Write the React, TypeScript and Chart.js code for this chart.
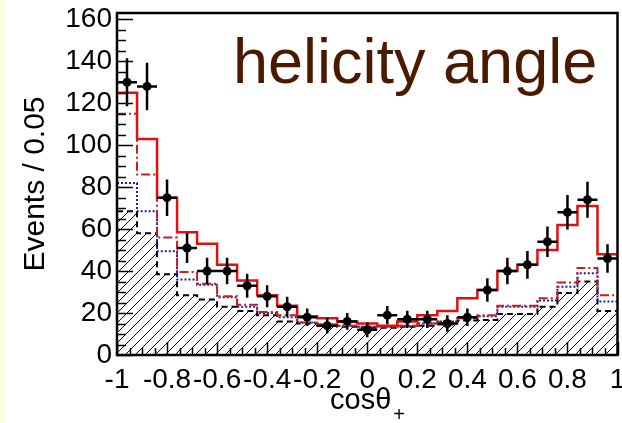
import React, { useEffect, useRef } from 'react';
import { Chart, registerables } from 'chart.js';

Chart.register(...registerables);

// ---- data ----
const binCenters = [-0.96, -0.88, -0.8, -0.72, -0.64, -0.56, -0.48, -0.4, -0.32, -0.24, -0.16, -0.08, 0, 0.08, 0.16, 0.24, 0.32, 0.4, 0.48, 0.56, 0.64, 0.72, 0.8, 0.88, 0.96];
const binHalfWidth = 0.04;
const dataCounts = [130, 128, 75, 51, 40, 40, 33, 28, 23, 18, 14, 16, 12, 19, 17, 17, 15, 18, 31, 40, 43, 54, 68, 74, 46];
const dataErrors = [11.4, 11.3, 8.7, 7.1, 6.3, 6.3, 5.7, 5.3, 4.8, 4.2, 3.7, 4.0, 3.5, 4.4, 4.1, 4.1, 3.9, 4.2, 5.6, 6.3, 6.6, 7.3, 8.2, 8.6, 6.8];
const totalFit = [125, 103, 75, 58.5, 53, 43, 35.5, 28.5, 23.5, 18.5, 17.5, 16, 15, 14, 16, 19, 21, 27, 31, 40, 43, 50, 62, 71, 48];
const componentDashDot = [115, 86, 56, 39.5, 34, 28, 24, 20.5, 19, 15.5, 14.5, 14, 13.5, 13.5, 14, 15, 16, 17.5, 19, 23.5, 23.5, 27, 34.5, 41.5, 28.5];
const componentDotted = [82, 68.5, 49.5, 36, 33.5, 27.5, 23, 20, 18, 15.5, 14.5, 14, 13.5, 13.5, 14, 15, 16, 17.5, 18.5, 23, 23, 26, 32.5, 39, 25.5];
const backgroundHatched = [68.5, 58, 38.5, 28.5, 26.5, 23, 21, 19, 16, 15, 14, 13.5, 13, 13, 13.5, 14, 14.5, 16.5, 16.7, 19.5, 19.5, 23, 29.5, 35, 21];

const xTickValues = [-1, -0.8, -0.6, -0.4, -0.2, 0, 0.2, 0.4, 0.6, 0.8, 1];
const xTickLabels = ['-1', '-0.8', '-0.6', '-0.4', '-0.2', '0', '0.2', '0.4', '0.6', '0.8', '1'];
const yTickValues = [0, 20, 40, 60, 80, 100, 120, 140, 160];
const yTickLabels = ['0', '20', '40', '60', '80', '100', '120', '140', '160'];

const xTitle = 'cosθ';
const xTitleSub = '+';
const yTitle = 'Events / 0.05';
const plotLabel = 'helicity angle';

const FONT = '"Liberation Sans", Arial, Helvetica, sans-serif';

function stepPoints(vals: number[]) {
  const pts = vals.map((v, i) => ({ x: binCenters[i] - binHalfWidth, y: v }));
  pts.push({ x: binCenters[binCenters.length - 1] + binHalfWidth, y: vals[vals.length - 1] });
  return pts;
}

function makeHatch(): CanvasPattern | string {
  const c = document.createElement('canvas');
  const s = 10;
  c.width = s;
  c.height = s;
  const g = c.getContext('2d');
  if (!g) return 'rgba(0,0,0,0.1)';
  g.strokeStyle = '#000';
  g.lineWidth = 1;
  g.beginPath();
  g.moveTo(-1, s + 1);
  g.lineTo(s + 1, -1);
  g.moveTo(-2, 2);
  g.lineTo(2, -2);
  g.moveTo(s - 2, s + 2);
  g.lineTo(s + 2, s - 2);
  g.stroke();
  const p = g.createPattern(c, 'repeat');
  return p || 'rgba(0,0,0,0.1)';
}

const decorPlugin = {
  id: 'decor',
  beforeDraw(chart: any) {
    const ctx = chart.ctx;
    ctx.save();
    ctx.fillStyle = '#ffffff';
    ctx.fillRect(0, 0, chart.width, chart.height);
    ctx.fillStyle = '#fffbe4';
    ctx.fillRect(0, 0, 5, chart.height);
    ctx.restore();
  },
  afterDatasetsDraw(chart: any) {
    const ctx = chart.ctx;
    const xs = chart.scales.x;
    const ys = chart.scales.y;
    const ca = chart.chartArea;
    ctx.save();
    // error bars
    ctx.strokeStyle = '#000';
    ctx.lineWidth = 2.5;
    ctx.beginPath();
    for (let i = 0; i < binCenters.length; i++) {
      const xc = xs.getPixelForValue(binCenters[i]);
      const yc = ys.getPixelForValue(dataCounts[i]);
      const yTop = ys.getPixelForValue(dataCounts[i] + dataErrors[i]);
      const yBot = ys.getPixelForValue(dataCounts[i] - dataErrors[i]);
      ctx.moveTo(xc, yTop);
      ctx.lineTo(xc, yBot);
      ctx.moveTo(xs.getPixelForValue(binCenters[i] - binHalfWidth), yc);
      ctx.lineTo(xs.getPixelForValue(binCenters[i] + binHalfWidth), yc);
    }
    ctx.stroke();

    // ticks inside frame
    ctx.lineWidth = 1.5;
    ctx.beginPath();
    for (let v = 0; v <= 163; v += 5) {
      const y = Math.round(ys.getPixelForValue(v)) + 0.5;
      const len = v % 20 === 0 ? 16 : 9;
      ctx.moveTo(ca.left, y);
      ctx.lineTo(ca.left + len, y);
    }
    for (let k = 0; k <= 40; k++) {
      const v = -1 + k * 0.05;
      const x = Math.round(xs.getPixelForValue(v)) + 0.5;
      const len = k % 4 === 0 ? 13 : 7;
      ctx.moveTo(x, ca.bottom);
      ctx.lineTo(x, ca.bottom - len);
    }
    ctx.stroke();

    // frame
    ctx.lineWidth = 2.5;
    ctx.strokeRect(ca.left, ca.top, ca.right - ca.left, ca.bottom - ca.top);

    // label in the plot
    ctx.fillStyle = '#4a1a00';
    ctx.font = '63px ' + FONT;
    ctx.textAlign = 'left';
    ctx.textBaseline = 'alphabetic';
    ctx.fillText(plotLabel, 233, 83);

    // axis titles
    ctx.fillStyle = '#000';
    ctx.font = '29px ' + FONT;
    ctx.textAlign = 'left';
    ctx.fillText(xTitle, 330, 409);
    const w = ctx.measureText(xTitle).width;
    ctx.font = '20px ' + FONT;
    ctx.fillText(xTitleSub, 330 + w + 2, 421);

    ctx.save();
    ctx.translate(44, 184);
    ctx.rotate(-Math.PI / 2);
    ctx.font = '30px ' + FONT;
    ctx.textAlign = 'center';
    ctx.textBaseline = 'alphabetic';
    ctx.fillText(yTitle, 0, 0);
    ctx.restore();

    ctx.restore();
  },
};

export default function App() {
  const ref = useRef<HTMLCanvasElement | null>(null);
  useEffect(() => {
    if (!ref.current) return;
    const hatch = makeHatch();
    const chart = new Chart(ref.current, {
      type: 'line',
      data: {
        datasets: [
          {
            label: 'data',
            type: 'scatter',
            data: binCenters.map((x, i) => ({ x, y: dataCounts[i] })),
            pointRadius: 4.5,
            pointBackgroundColor: '#000',
            pointBorderColor: '#000',
            pointBorderWidth: 0,
            showLine: false,
            order: 0,
          } as any,
          {
            label: 'total',
            data: stepPoints(totalFit),
            stepped: 'before',
            borderColor: '#e01010',
            borderWidth: 2.5,
            pointRadius: 0,
            fill: false,
            order: 1,
          } as any,
          {
            label: 'dashdot',
            data: stepPoints(componentDashDot),
            stepped: 'before',
            borderColor: '#c81e1e',
            borderWidth: 2,
            borderDash: [9, 3, 2, 3],
            pointRadius: 0,
            fill: false,
            order: 2,
          } as any,
          {
            label: 'dotted',
            data: stepPoints(componentDotted),
            stepped: 'before',
            borderColor: '#1e1ea8',
            borderWidth: 2,
            borderDash: [2, 2],
            pointRadius: 0,
            fill: false,
            order: 3,
          } as any,
          {
            label: 'background',
            data: stepPoints(backgroundHatched),
            stepped: 'before',
            borderColor: '#000',
            borderWidth: 2,
            borderDash: [6, 4],
            backgroundColor: hatch,
            pointRadius: 0,
            fill: 'origin',
            order: 4,
          } as any,
        ],
      },
      options: {
        animation: false,
        responsive: false,
        events: [],
        layout: { padding: { left: 0, right: 3, top: 13, bottom: 0 } },
        plugins: { legend: { display: false }, tooltip: { enabled: false }, title: { display: false } },
        scales: {
          x: {
            type: 'linear',
            min: -1,
            max: 1,
            afterBuildTicks: (axis: any) => {
              axis.ticks = xTickValues.map((v) => ({ value: v }));
            },
            afterFit: (s: any) => {
              s.height = 68;
              s.paddingLeft = 0;
              s.paddingRight = 0;
            },
            ticks: {
              autoSkip: false,
              maxRotation: 0,
              minRotation: 0,
              padding: 8,
              color: '#000',
              font: { size: 28, family: FONT },
              callback: (_v: any, i: number) => xTickLabels[i],
            },
            grid: { display: false, drawTicks: false },
            border: { display: false },
          },
          y: {
            type: 'linear',
            min: 0,
            max: 163,
            afterBuildTicks: (axis: any) => {
              axis.ticks = yTickValues.map((v) => ({ value: v }));
            },
            afterFit: (s: any) => {
              s.width = 117;
              s.paddingTop = 0;
              s.paddingBottom = 0;
            },
            ticks: {
              autoSkip: false,
              padding: 5,
              color: '#000',
              font: { size: 28, family: FONT },
              callback: (_v: any, i: number) => yTickLabels[i],
            },
            grid: { display: false, drawTicks: false },
            border: { display: false },
          },
        },
      } as any,
      plugins: [decorPlugin],
    });
    return () => chart.destroy();
  }, []);
  return (
    <div style={{ position: 'absolute', left: 0, top: 0, width: 622, height: 423 }}>
      <canvas ref={ref} width={622} height={423} style={{ display: 'block' }} />
    </div>
  );
}
